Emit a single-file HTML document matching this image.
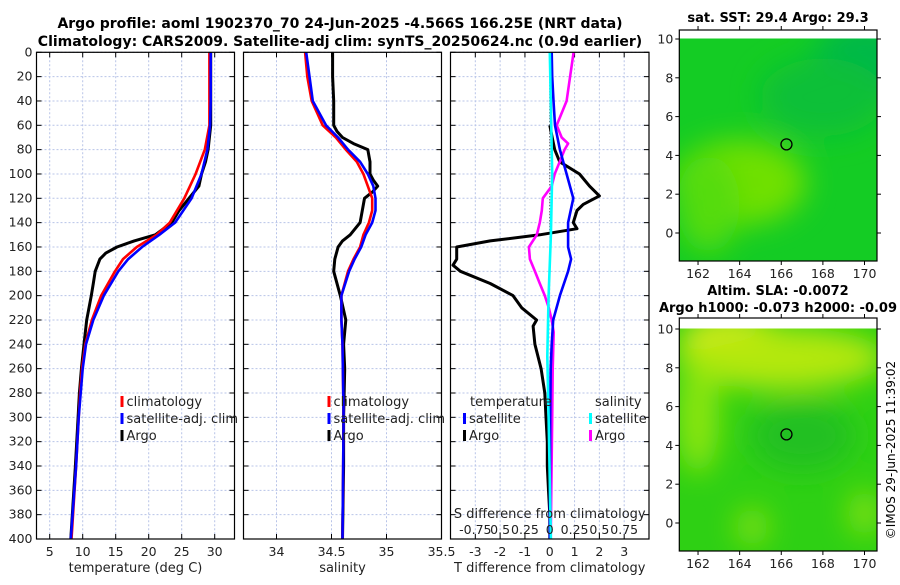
<!DOCTYPE html>
<html><head><meta charset="utf-8"><style>
body{margin:0;background:#fff;}
svg text{font-family:"DejaVu Sans","Liberation Sans",sans-serif;}
</style></head><body>
<svg id="fig" xmlns="http://www.w3.org/2000/svg" width="900" height="580" viewBox="0 0 900 580">
<text x="340" y="28" text-anchor="middle" font-size="14" font-weight="bold">Argo profile: aoml 1902370_70 24-Jun-2025 -4.566S 166.25E (NRT data)</text>
<text x="340" y="46" text-anchor="middle" font-size="14" font-weight="bold">Climatology: CARS2009. Satellite-adj clim: synTS_20250624.nc (0.9d earlier)</text>
<text x="778" y="22" text-anchor="middle" font-size="13" font-weight="bold">sat. SST: 29.4 Argo: 29.3</text>
<text x="778" y="295" text-anchor="middle" font-size="13" font-weight="bold">Altim. SLA: -0.0072</text>
<text x="778" y="312" text-anchor="middle" font-size="13" font-weight="bold">Argo h1000: -0.073 h2000: -0.09</text>
<text transform="translate(895,450) rotate(-90)" text-anchor="middle" font-size="12">©IMOS 29-Jun-2025 11:39:02</text>
<g id="panels"></g>
<g id="maps"></g>
</svg>
<script>
// ---- data ----
const depthTicks = [0,20,40,60,80,100,120,140,160,180,200,220,240,260,280,300,320,340,360,380,400];
const tempTicks = [5,10,15,20,25,30];
const salTicks = [34,34.5,35,35.5];
const dTTicks = [-3,-2,-1,0,1,2,3];
const dSTicks = [-0.75,-0.5,-0.25,0,0.25,0.5,0.75];
const dSTickLabels = ["-0.75","0.5","0.25","0","0.25","0.5","0.75"];

const tClimDepth = [0,20,40,60,80,100,120,140,150,160,170,180,200,220,240,260,280,300,340,400];
const tClim = [29.2,29.2,29.2,29.2,28.5,27.1,25.4,23.2,21.2,18.2,16.1,14.9,12.8,11.4,10.4,9.9,9.6,9.4,9.0,8.3];
const tSat = [29.4,29.4,29.4,29.3,28.9,28.0,26.5,24.0,21.6,19.0,16.9,15.4,13.2,11.6,10.5,10.0,9.7,9.4,9.0,8.2];
const tArgoDepth = [0,20,40,60,80,90,100,110,120,130,140,150,155,160,165,170,180,190,200,220,240,260,280,300,340,400];
const tArgo = [29.4,29.4,29.4,29.4,29.0,28.6,28.0,27.6,26.1,24.6,23.5,21.0,17.8,15.2,13.5,12.6,11.9,11.6,11.3,10.6,10.2,9.8,9.5,9.3,8.9,8.2];

const sClimDepth = [0,20,40,50,60,70,80,90,100,110,120,130,140,150,160,170,180,200,220,240,300,400];
const sClim = [34.26,34.28,34.32,34.37,34.42,34.54,34.63,34.73,34.79,34.83,34.87,34.87,34.84,34.79,34.76,34.70,34.65,34.59,34.59,34.60,34.61,34.60];
const sSat = [34.27,34.30,34.33,34.39,34.45,34.56,34.65,34.76,34.83,34.88,34.90,34.90,34.87,34.81,34.77,34.71,34.66,34.59,34.59,34.60,34.61,34.60];
const sArgoDepth = [0,20,40,60,65,70,75,80,90,100,105,110,115,120,130,140,150,155,160,170,180,200,220,240,260,300,340,400];
const sArgo = [34.51,34.51,34.52,34.52,34.55,34.60,34.70,34.83,34.85,34.85,34.88,34.92,34.87,34.80,34.78,34.76,34.67,34.60,34.56,34.53,34.52,34.58,34.63,34.61,34.62,34.61,34.61,34.60];

const dTSatDepth = [0,20,40,60,80,100,120,140,160,170,180,200,220,240,260,300,400];
const dTSat = [0.08,0.1,0.15,0.21,0.41,0.68,0.95,0.74,0.74,0.86,0.74,0.41,0.14,0.08,0.04,0.02,0.0];
const dTArgoDepth = [60,70,80,90,100,110,118,125,130,140,145,150,155,160,170,175,180,190,200,210,220,225,240,260,280,300,320,340,360,380,400];
const dTArgo = [0,0.1,0.2,0.4,1.2,1.6,2.0,1.35,1.1,0.95,1.1,-0.4,-2.4,-3.75,-3.75,-3.9,-3.6,-2.4,-1.48,-1.13,-0.53,-0.67,-0.6,-0.35,-0.2,-0.15,-0.1,-0.1,-0.05,0,0];
const dSArgoDepth = [0,20,40,60,70,75,80,90,100,110,120,130,140,150,160,170,180,190,200,210,220,230,260,300,400];
const dSArgo = [0.24,0.205,0.17,0.07,0.12,0.185,0.15,0.10,0.05,0.02,-0.07,-0.08,-0.10,-0.13,-0.21,-0.20,-0.15,-0.10,-0.05,-0.01,0.02,0.04,0.03,0.025,0.01];
const dSSatDepth = [0,100,150,200,250,300,400];
const dSSat = [0,0.025,0.012,-0.012,-0.025,-0.012,0.012];

const lonTicks = [162,164,166,168,170];
const latTicks = [0,2,4,6,8,10];
const floatLon = 166.25, floatLat = 4.57;

// ---- drawing ----
const NS = "http://www.w3.org/2000/svg";
const root = document.getElementById('panels');
function mk(tag, attrs, parent){
  const e = document.createElementNS(NS, tag);
  for (const k in attrs) e.setAttribute(k, attrs[k]);
  (parent||root).appendChild(e);
  return e;
}
const Y0 = 52.3, Y1 = 539;
const yScale = d => Y0 + d/400*(Y1-Y0);
function xScaleFor(x0,x1,v0,v1){ return v => x0 + (v-v0)/(v1-v0)*(x1-x0); }

const panels = [
  {name:'temperature-panel', x0:36.5, x1:234.5, v0:3, v1:33, ticks:tempTicks, labels:tempTicks.map(String), title:'temperature (deg C)', ylabels:true},
  {name:'salinity-panel', x0:243.5, x1:441.5, v0:33.7, v1:35.5, ticks:salTicks, labels:["34","34.5","35","35.5"], title:'salinity', ylabels:false},
  {name:'difference-panel', x0:450.5, x1:649, v0:-4, v1:4, ticks:dTTicks, labels:dTTicks.map(String), title:'T difference from climatology', ylabels:false}
];
panels.forEach(p=>{
  p.x = xScaleFor(p.x0,p.x1,p.v0,p.v1);
  const g = mk('g',{});
  
  
  p.g = g;
  const gridVals = p.name==='difference-panel' ? [-3,-2,-1,0,1,2,3] : p.ticks;
  gridVals.forEach(v=>{
    const x = p.x(v);
    if (x>p.x0+1 && x<p.x1-1){
      const l = mk('line',{x1:x,x2:x,y1:Y0,y2:Y1,stroke:'#b8c4e8','stroke-width':1,'stroke-dasharray':'2,2'},g);
      
      
    }
  });
  depthTicks.forEach(d=>{
    const y = yScale(d);
    const l = mk('line',{x1:p.x0,x2:p.x1,y1:y,y2:y,stroke:'#b8c4e8','stroke-width':1,'stroke-dasharray':'2,2'},g);
    
    
    mk('line',{x1:p.x0,x2:p.x0+5,y1:y,y2:y,stroke:'#000'},g);
    mk('line',{x1:p.x1,x2:p.x1-5,y1:y,y2:y,stroke:'#000'},g);
    if (p.ylabels){
      const t = mk('text',{x:p.x0-4,y:y+4,'text-anchor':'end','font-size':12.5,fill:'#222'},g);
      t.textContent = d;
      
      
    }
  });
  p.ticks.forEach((v,i)=>{
    const x = p.x(v);
    mk('line',{x1:x,x2:x,y1:Y1,y2:Y1-5,stroke:'#000'},g);
    mk('line',{x1:x,x2:x,y1:Y0,y2:Y0+5,stroke:'#000'},g);
    const t = mk('text',{x:x,y:556,'text-anchor':'middle','font-size':12.5,fill:'#222'},g);
    t.textContent = p.labels[i];
    
    
  });
  const at = mk('text',{x:(p.x0+p.x1)/2,y:572,'text-anchor':'middle','font-size':13,fill:'#222'},g);
  at.textContent = p.title;
  
  
});

function series(p, depths, vals, color, name, w, scale){
  const pts = depths.map((d,i)=> p.x(vals[i]*(scale||1)).toFixed(1)+','+yScale(d).toFixed(1)).join(' ');
  const e = mk('polyline',{points:pts,fill:'none',stroke:color,'stroke-width':w||2.6,'stroke-linejoin':'round'},p.g);
  
  
}
const [P1,P2,P3] = panels;
series(P1,tArgoDepth,tArgo,'#000','argo-temperature-line',3);
series(P1,tClimDepth,tClim,'#ff0000','climatology-temperature-line');
series(P1,tClimDepth,tSat,'#0000ff','satellite-temperature-line');
series(P2,sArgoDepth,sArgo,'#000','argo-salinity-line',3);
series(P2,sClimDepth,sClim,'#ff0000','climatology-salinity-line');
series(P2,sClimDepth,sSat,'#0000ff','satellite-salinity-line');
const z = mk('line',{x1:P3.x(0),x2:P3.x(0),y1:Y0,y2:yScale(150),stroke:'#333','stroke-width':1,'stroke-dasharray':'1,2'},P3.g);


series(P3,dTArgoDepth,dTArgo,'#000','argo-temperature-difference-line',3);
series(P3,dSArgoDepth,dSArgo,'#ff00ff','argo-salinity-difference-line',2.6,4);
series(P3,dTSatDepth,dTSat,'#0000ff','satellite-temperature-difference-line');
series(P3,dSSatDepth,dSSat,'#00ffff','satellite-salinity-difference-line',2.6,4);
dSTicks.forEach((v,i)=>{
  const t = mk('text',{x:P3.x(v*4),y:534,'text-anchor':'middle','font-size':12.5,fill:'#222'},P3.g);
  t.textContent = dSTickLabels[i];
  
  
});
const st = mk('text',{x:P3.x(0),y:518,'text-anchor':'middle','font-size':13,fill:'#222'},P3.g);
st.textContent = 'S difference from climatology';


panels.forEach(p=>{
  const r = mk('rect',{x:p.x0,y:Y0,width:p.x1-p.x0,height:Y1-Y0,fill:'none',stroke:'#000','stroke-width':1.2},p.g);
  
  
});
function legendEntry(g,x,y,color,label){
  const m = mk('rect',{x:x,y:y-9,width:3,height:11,fill:color},g);
  
  
  const t = mk('text',{x:x+6,y:y+1,'font-size':13,fill:'#222'},g);
  t.textContent = label;
  
  
}
[P1,P2].forEach(p=>{
  const lx = p.x0 + 84;
  legendEntry(p.g,lx,405,'#ff0000','climatology');
  legendEntry(p.g,lx,422,'#0000ff','satellite-adj. clim');
  legendEntry(p.g,lx,439,'#000','Argo');
});
{
  const t1 = mk('text',{x:470,y:406,'font-size':13,fill:'#222'},P3.g); t1.textContent='temperature';
   
  const t2 = mk('text',{x:595,y:406,'font-size':13,fill:'#222'},P3.g); t2.textContent='salinity';
   
  legendEntry(P3.g,463,422,'#0000ff','satellite');
  legendEntry(P3.g,463,439,'#000','Argo');
  legendEntry(P3.g,589,422,'#00ffff','satellite');
  legendEntry(P3.g,589,439,'#ff00ff','Argo');
}

// ---- maps ----
const mroot = document.getElementById('maps');
const defs = mk('defs',{},mroot);
const fl = mk('filter',{id:'blur',x:'-50%',y:'-50%',width:'200%',height:'200%'},defs);
mk('feGaussianBlur',{stdDeviation:14},fl);
const maps = [
  {name:'sst-map', top:30, fillTop:38.5, bottom:261, base:'#14cc24',
   blobs:[['#70e000',164,2.6,3.2,2.2],['#55dc08',162.5,1.5,1.5,2.5],['#03b84a',170,8.8,2.5,2],['#0ac038',168,7,3,2]]},
  {name:'sla-map', top:318, fillTop:328.5, bottom:551, base:'#2ed014',
   blobs:[['#e8ec20',163.7,9.3,2.6,1.4],['#b4e810',166,8.5,5,1.6],['#8ce610',162,5.5,1,3],['#22c024',167,4.5,2.5,1.8],['#7ee010',164.6,-0.2,0.8,1],['#7ee010',170,0.5,0.8,1.2]]}
];
const MX0 = 679.3, MX1 = 877;
const lonX = v => MX0 + (v-161.1)/(170.6-161.1)*(MX1-MX0);
maps.forEach((m,mi)=>{
  const latY = v => (m.top===30 ? 233 : 523) - v*19.4;
  const g = mk('g',{},mroot);
  
  
  const cp = mk('clipPath',{id:'clip'+mi},defs);
  mk('rect',{x:MX0,y:m.fillTop,width:MX1-MX0,height:m.bottom-m.fillTop},cp);
  const cg = mk('g',{'clip-path':'url(#clip'+mi+')'},g);
  mk('rect',{x:MX0,y:m.fillTop,width:MX1-MX0,height:m.bottom-m.fillTop,fill:m.base},cg);
  const bg = mk('g',{filter:'url(#blur)'},cg);
  m.blobs.forEach(b=>{
    mk('ellipse',{cx:lonX(b[1]),cy:latY(b[2]),rx:b[3]*20.9,ry:b[4]*19.4,fill:b[0]},bg);
  });
  const c = mk('circle',{cx:lonX(floatLon),cy:latY(floatLat),r:5.5,fill:'none',stroke:'#000','stroke-width':1.3},g);
  
  
  mk('rect',{x:MX0,y:m.top,width:MX1-MX0,height:m.bottom-m.top,fill:'none',stroke:'#000','stroke-width':1.2},g);
  lonTicks.forEach(v=>{
    const x = lonX(v);
    mk('line',{x1:x,x2:x,y1:m.bottom,y2:m.bottom+4,stroke:'#000'},g);
    mk('line',{x1:x,x2:x,y1:m.top,y2:m.top-4,stroke:'#000'},g);
    const t = mk('text',{x:x,y:m.bottom+17,'text-anchor':'middle','font-size':12.5,fill:'#222'},g);
    t.textContent = v;
    
    
  });
  latTicks.forEach(v=>{
    const y = latY(v);
    mk('line',{x1:MX0,x2:MX0-4,y1:y,y2:y,stroke:'#000'},g);
    mk('line',{x1:MX1,x2:MX1+4,y1:y,y2:y,stroke:'#000'},g);
    const t = mk('text',{x:MX0-6,y:y+4.5,'text-anchor':'end','font-size':12.5,fill:'#222'},g);
    t.textContent = v;
    
    
  });
});
</script>
</body></html>
